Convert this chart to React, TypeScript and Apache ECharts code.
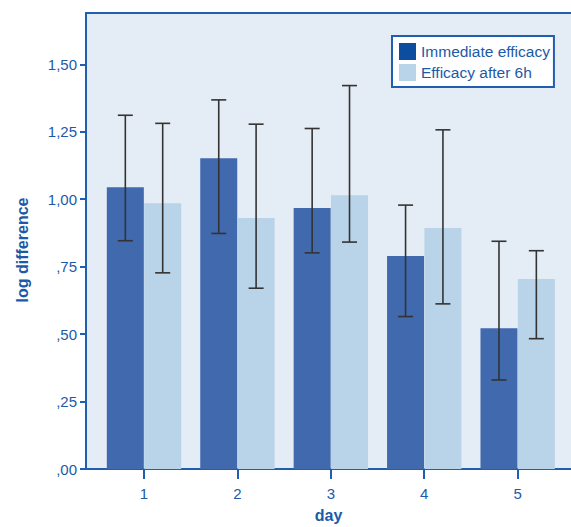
import React, { useEffect, useRef } from "react";
import * as echarts from "echarts";

const days = [1, 2, 3, 4, 5];
const immediate = [1.044, 1.152, 0.967, 0.789, 0.522];
const after6h = [0.985, 0.93, 1.015, 0.893, 0.704];
const immLow = [0.846, 0.873, 0.801, 0.565, 0.33];
const immHigh = [1.311, 1.368, 1.262, 0.978, 0.844];
const aftLow = [0.727, 0.67, 0.841, 0.612, 0.483];
const aftHigh = [1.281, 1.278, 1.421, 1.257, 0.809];
const yTicks = [0, 0.25, 0.5, 0.75, 1.0, 1.25, 1.5];
const seriesNames = ["Immediate efficacy", "Efficacy after 6h"];

const BLUE = "#1F5FAF";
const TEXT = "#1C5AA8";
const DARK = "#4169AE";
const LIGHT = "#B9D3E8";
const OFFSET = 0.2;

function fmtY(v: number) {
  return v.toFixed(2).replace(".", ",").replace(/^0/, "");
}

export default function App() {
  const ref = useRef<HTMLDivElement>(null);
  useEffect(() => {
    document.body.style.margin = "0";
    const chart = echarts.init(ref.current!, null, { renderer: "svg" });
    const font = "'Liberation Sans', Arial, sans-serif";
    const errData = [
      ...days.map((d, i) => [d - OFFSET, immLow[i], immHigh[i]]),
      ...days.map((d, i) => [d + OFFSET, aftLow[i], aftHigh[i]]),
    ];
    chart.setOption({
      animation: false,
      textStyle: { fontFamily: font },
      grid: {
        left: 86,
        top: 13,
        right: 0,
        bottom: 58,
        show: true,
        containLabel: false,
        outerBoundsMode: "none",
        backgroundColor: "#E4ECF5",
        borderWidth: 0,
      },
      legend: {
        orient: "vertical",
        left: 392,
        top: 36,
        padding: [7, 4, 6, 7],
        itemGap: 4,
        itemWidth: 17,
        itemHeight: 17,
        icon: "rect",
        backgroundColor: "#ffffff",
        borderColor: BLUE,
        borderWidth: 2,
        borderRadius: 0,
        selectedMode: false,
        textStyle: { color: TEXT, fontSize: 15.5, fontFamily: font },
        data: [
          { name: seriesNames[0], itemStyle: { color: "#0D4D9F" } },
          { name: seriesNames[1], itemStyle: { color: LIGHT } },
        ],
      },
      xAxis: [
        {
          type: "value",
          min: 0.379,
          max: 5.571,
          name: "day",
          nameLocation: "middle",
          nameGap: 38,
          nameTextStyle: { color: TEXT, fontSize: 16, fontWeight: "bold", fontFamily: font },
          splitLine: { show: false },
          axisLine: { show: true, lineStyle: { color: BLUE, width: 2 } },
          axisTick: { show: true, length: 10, lineStyle: { color: BLUE, width: 2 }, customValues: days },
          axisLabel: { color: TEXT, fontSize: 15, margin: 17, customValues: days, fontFamily: font },
        },
        {
          type: "value",
          position: "top",
          min: 0,
          max: 1,
          axisLine: { show: true, onZero: false, lineStyle: { color: BLUE, width: 2 } },
          axisTick: { show: false },
          axisLabel: { show: false },
          splitLine: { show: false },
        },
      ],
      yAxis: {
        type: "value",
        min: 0,
        max: 1.69,
        name: "log difference",
        nameLocation: "middle",
        nameGap: 56,
        nameRotate: 90,
        nameTextStyle: {
          color: TEXT,
          fontSize: 16,
          fontWeight: "bold",
          fontFamily: font,
          padding: [0, 18, 0, 0],
        },
        splitLine: { show: false },
        axisLine: { show: true, lineStyle: { color: BLUE, width: 2 } },
        axisTick: { show: true, length: 6, lineStyle: { color: BLUE, width: 2 }, customValues: yTicks },
        axisLabel: {
          color: TEXT,
          fontSize: 15,
          margin: 9,
          customValues: yTicks,
          formatter: (v: number) => fmtY(v),
          fontFamily: font,
        },
      },
      series: [
        {
          name: seriesNames[0],
          type: "bar",
          barWidth: 37,
          barGap: "-100%",
          itemStyle: { color: DARK },
          data: days.map((d, i) => [d - OFFSET, immediate[i]]),
        },
        {
          name: seriesNames[1],
          type: "bar",
          barWidth: 37,
          barGap: "-100%",
          itemStyle: { color: LIGHT },
          data: days.map((d, i) => [d + OFFSET, after6h[i]]),
        },
        {
          type: "custom",
          z: 10,
          data: errData,
          renderItem: (_params: any, api: any) => {
            const x = api.value(0);
            const lo = api.coord([x, api.value(1)]);
            const hi = api.coord([x, api.value(2)]);
            const w = 7.5;
            const style = { stroke: "#333333", lineWidth: 1.6 };
            return {
              type: "group",
              children: [
                { type: "line", shape: { x1: lo[0], y1: lo[1], x2: hi[0], y2: hi[1] }, style },
                { type: "line", shape: { x1: lo[0] - w, y1: lo[1], x2: lo[0] + w, y2: lo[1] }, style },
                { type: "line", shape: { x1: hi[0] - w, y1: hi[1], x2: hi[0] + w, y2: hi[1] }, style },
              ],
            };
          },
        },
      ],
    });
    return () => chart.dispose();
  }, []);
  return <div ref={ref} style={{ width: 571, height: 527 }} />;
}
